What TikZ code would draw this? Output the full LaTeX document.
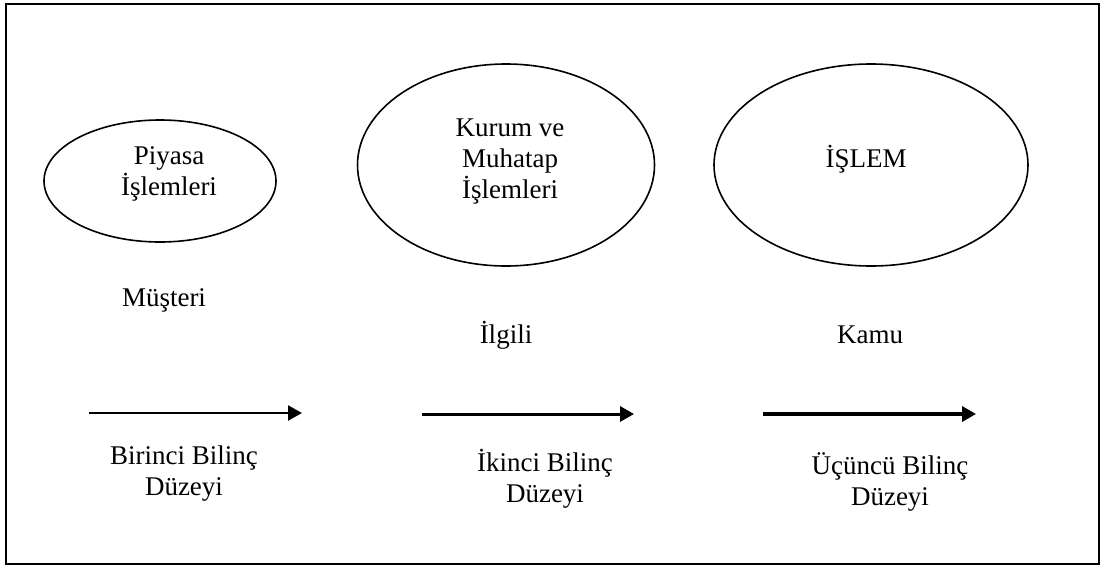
\documentclass[tikz,border=0pt]{standalone}
\usepackage{fontspec}
\setmainfont{Liberation Serif}
\usetikzlibrary{shapes.geometric,arrows.meta}
\begin{document}
\begin{tikzpicture}[x=1pt,y=-1pt,
  oval/.style={draw,ellipse,line width=1.6pt,inner sep=0pt},
  txt/.style={align=center,font=\fontsize{27}{31}\selectfont,inner sep=0pt},
  levelarrow/.style={-{Triangle[length=14pt,width=15pt]}}]
  \useasboundingbox (0,0) rectangle (1108,568);
  % outer frame
  \draw[line width=2.4pt] (6,4) rectangle (1099,564);

  % the three ellipses
  \node[oval,minimum width=232pt,minimum height=122pt] (e1) at (160,181) {};
  \node[oval,minimum width=297pt,minimum height=202pt] (e2) at (506,165) {};
  \node[oval,minimum width=314pt,minimum height=202pt] (e3) at (871,165) {};

  \node[txt] (t1) at (169,174) {Piyasa\\İşlemleri};
  \node[txt] (t2) at (510,162) {Kurum ve\\Muhatap\\İşlemleri};
  \node[txt] (t3) at (866,159) {İŞLEM};

  % middle labels
  \node[txt] (m1) at (164,300) {Müşteri};
  \node[txt] (m2) at (506,335) {İlgili};
  \node[txt] (m3) at (870,335) {Kamu};

  % arrows
  \coordinate (a1s) at (89,413);  \coordinate (a1e) at (302,413);
  \coordinate (a2s) at (422,414); \coordinate (a2e) at (634,414);
  \coordinate (a3s) at (763,414); \coordinate (a3e) at (976,414);
  \draw[levelarrow,line width=2.4pt] (a1s) -- (a1e);
  \draw[levelarrow,line width=3pt] (a2s) -- (a2e);
  \draw[levelarrow,line width=4.5pt] (a3s) -- (a3e);

  % bottom labels
  \node[txt] (b1) at (184,474) {Birinci Bilinç\\Düzeyi};
  \node[txt] (b2) at (545,479) {İkinci Bilinç\\Düzeyi};
  \node[txt] (b3) at (890,482) {Üçüncü Bilinç\\Düzeyi};
\end{tikzpicture}
\end{document}
